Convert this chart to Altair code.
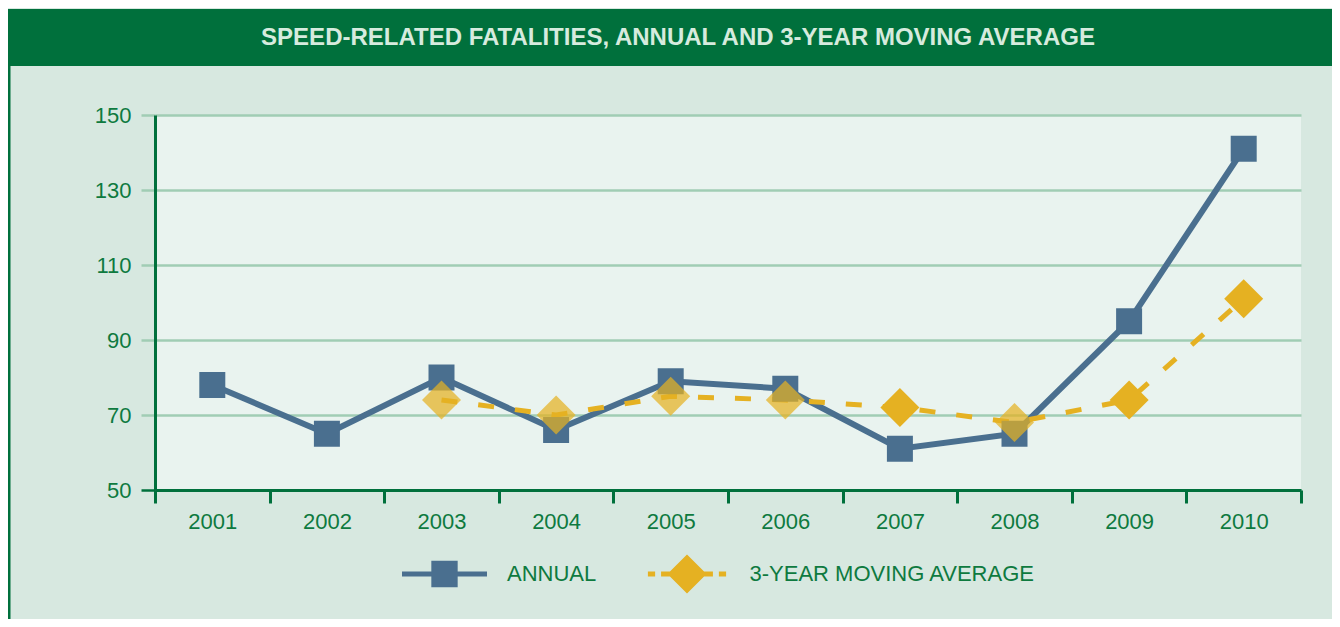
import altair as alt
import pandas as pd

# ---- data ----
years = ["2001", "2002", "2003", "2004", "2005", "2006", "2007", "2008", "2009", "2010"]
annual = [78, 65, 80, 66, 79, 77, 61, 65, 95, 141]
avg_years = ["2003", "2004", "2005", "2006", "2007", "2008", "2009", "2010"]
moving_avg = [74, 70, 75, 74, 72, 68, 74, 101]
y_ticks = [50, 70, 90, 110, 130, 150]

TITLE = "SPEED-RELATED FATALITIES, ANNUAL AND 3-YEAR MOVING AVERAGE"
S_ANNUAL = "ANNUAL"
S_AVG = "3-YEAR MOVING AVERAGE"

# ---- styles ----
DARK_GREEN = "#00703C"
LABEL_GREEN = "#0E7A3F"
PANEL = "#D7E8E0"
PLOT_BG = "#E9F3EF"
GRID = "#A0CDB4"
BLUE = "#4A6F8F"
GOLD = "#E5B122"
TITLE_COLOR = "#D6EBDE"
FONT = "Liberation Sans Narrow, Liberation Sans, Arial, sans-serif"
FS = 22

W, H = 1146, 375
PAD = {"left": 147, "top": 107, "right": 31, "bottom": 129}

ANNUAL_SYMBOL = "M-1,-0.06H1V0.06H-1Z M-0.31,-0.31H0.31V0.31H-0.31Z"
AVG_SYMBOL = ("M-0.92,-0.06H-0.75V0.06H-0.92Z M-0.61,-0.06H0.61V0.06H-0.61Z "
              "M0.75,-0.06H0.92V0.06H0.75Z M0,-0.46L0.46,0L0,0.46L-0.46,0Z")

df = pd.DataFrame({
    "year": years + avg_years,
    "series": [S_ANNUAL] * len(years) + [S_AVG] * len(avg_years),
    "value": annual + moving_avg,
})

x_enc = alt.X(
    "year:O",
    scale=alt.Scale(type="band", domain=years, paddingInner=0, paddingOuter=0),
    axis=alt.Axis(
        title=None, labelAngle=0, grid=False,
        domainColor=DARK_GREEN, domainWidth=3,
        tickColor=DARK_GREEN, tickWidth=3, tickSize=13, tickBand="extent",
        labelFont=FONT, labelFontSize=FS, labelColor=LABEL_GREEN, labelPadding=8,
    ),
)
y_enc = alt.Y(
    "value:Q",
    scale=alt.Scale(domain=[50, 150], nice=False, zero=False),
    axis=alt.Axis(
        title=None, values=y_ticks, grid=True, gridColor=GRID, gridWidth=2.5,
        tickColor={"condition": {"test": "datum.value === 50", "value": DARK_GREEN}, "value": GRID},
        tickSize=14, tickWidth=2.5,
        domainColor=DARK_GREEN, domainWidth=3,
        labelFont=FONT, labelFontSize=FS, labelColor=LABEL_GREEN, labelPadding=10,
    ),
)

base = alt.Chart(df).transform_joinaggregate(
    lo="min(value)", hi="max(value)", groupby=["year"]
)

line_annual = base.transform_filter(alt.datum.series == S_ANNUAL).mark_line(
    color=BLUE, strokeWidth=6, strokeCap="butt"
).encode(x=x_enc, y=y_enc)

line_avg = base.transform_filter(alt.datum.series == S_AVG).mark_line(
    color=GOLD, strokeWidth=5, strokeDash=[16, 21], strokeCap="butt"
).encode(x=x_enc, y=y_enc)

legend_common = dict(
    title=None, orient="none", padding=0, symbolSize=7225, symbolStrokeWidth=0,
    symbolOpacity=1, labelFont=FONT, labelFontSize=FS, labelColor=LABEL_GREEN,
    labelOffset=20, labelLimit=400,
)

squares = base.transform_filter(alt.datum.series == S_ANNUAL).mark_point(
    shape="square", filled=True, size=676, strokeWidth=0
).encode(
    x=x_enc, y=y_enc,
    color=alt.Color("series:N", scale=alt.Scale(domain=[S_ANNUAL], range=[BLUE]),
                    legend=alt.Legend(symbolType=ANNUAL_SYMBOL, legendX=247, legendY=416.5,
                                      **legend_common)),
    opacity=alt.value(1),
)

diamonds = base.transform_filter(alt.datum.series == S_AVG).mark_point(
    shape="diamond", filled=True, size=1521, strokeWidth=0
).encode(
    x=x_enc, y=y_enc,
    color=alt.Color("series:N", scale=alt.Scale(domain=[S_AVG], range=[GOLD]),
                    legend=alt.Legend(symbolType=AVG_SYMBOL, legendX=489.5, legendY=416.5,
                                      **legend_common)),
    opacity=alt.condition("datum.hi - datum.lo < 8", alt.value(0.72), alt.value(1)),
)

deco = pd.DataFrame({"k": [0]})
title_bar = alt.Chart(deco).mark_rect(color=DARK_GREEN).encode(
    x=alt.value(-PAD["left"]), x2=alt.value(W + PAD["right"]),
    y=alt.value(-106), y2=alt.value(-49),
)
left_border = alt.Chart(deco).mark_rect(color=DARK_GREEN).encode(
    x=alt.value(-PAD["left"]), x2=alt.value(-PAD["left"] + 2.5),
    y=alt.value(-49), y2=alt.value(H + PAD["bottom"]),
)

chart = alt.layer(
    title_bar, left_border, line_annual, line_avg, squares, diamonds
).resolve_scale(color="independent").properties(
    width=W, height=H,
    title=alt.TitleParams(
        TITLE, font=FONT, fontSize=24, fontWeight="bold", color=TITLE_COLOR,
        anchor="middle", frame="group", orient="top", baseline="middle",
        offset=-53, dx=-50, zindex=1,
    ),
    autosize=alt.AutoSizeParams(type="none"),
    padding=PAD,
    background=PANEL,
).configure_view(fill=PLOT_BG, stroke=None)

chart.save("out.html", embed_options={"renderer": "svg", "actions": False})
